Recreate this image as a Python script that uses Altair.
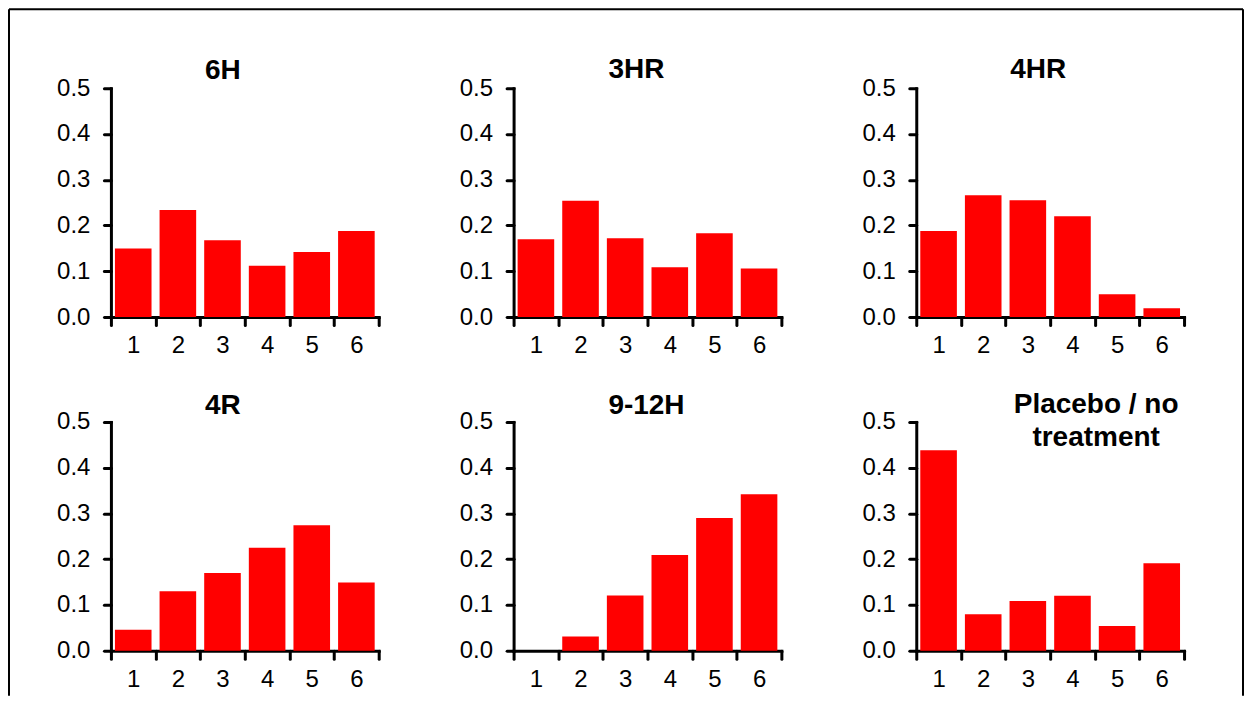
import altair as alt
import pandas as pd

FONT = "Liberation Sans"

# bar categories on the x axis
categories = [1, 2, 3, 4, 5, 6]

# one list of proportions per panel
h6 = [0.150, 0.234, 0.168, 0.112, 0.142, 0.188]
hr3 = [0.170, 0.254, 0.172, 0.109, 0.183, 0.106]
hr4 = [0.188, 0.266, 0.255, 0.220, 0.050, 0.019]
r4 = [0.046, 0.130, 0.170, 0.225, 0.274, 0.149]
h9_12 = [0.000, 0.031, 0.121, 0.209, 0.290, 0.342]
placebo = [0.438, 0.080, 0.109, 0.120, 0.054, 0.191]

panel_titles = ["6H", "3HR", "4HR", "4R", "9-12H", ["Placebo / no", "treatment"]]
panel_values = [h6, hr3, hr4, r4, h9_12, placebo]
y_ticks = [0.0, 0.1, 0.2, 0.3, 0.4, 0.5]

# title nudges so they sit where the original puts them
# (first panel also carries the outer frame, which pushes its title up)
title_dx = [-22, -11, -12, -22, -1, 46]
title_dy = [87, 18, 18, 20, 20, 52]

x_axis = alt.Axis(
    title=None, labelAngle=0, tickBand="extent", grid=False,
    domainColor="black", domainWidth=3, domainCap="square",
    tickColor="black", tickWidth=3, tickSize=8, tickCap="round",
    labelFont=FONT, labelFontSize=24, labelColor="black", labelPadding=9,
)
y_axis = alt.Axis(
    title=None, values=y_ticks, format=".1f", grid=False,
    domainColor="black", domainWidth=3, domainCap="square",
    tickColor="black", tickWidth=3, tickSize=7, tickCap="round",
    labelFont=FONT, labelFontSize=24, labelColor="black", labelPadding=14,
)


def panel(i):
    df = pd.DataFrame({"cat": categories, "val": panel_values[i]})
    bars = (
        alt.Chart(df)
        .mark_bar(color="#ff0000", width=alt.RelativeBandSize(0.82))
        .encode(
            alt.X("cat:O", axis=x_axis, scale=alt.Scale(paddingInner=0, paddingOuter=0)),
            alt.Y("val:Q", axis=y_axis, scale=alt.Scale(domain=[0, 0.5], nice=False)),
        )
    )
    title = alt.TitleParams(
        panel_titles[i], font=FONT, fontWeight="bold", color="black",
        fontSize=28, lineHeight=33,
        anchor="middle", frame="group", dx=title_dx[i], dy=title_dy[i], offset=10,
    )
    return bars, title


charts = []
for i in range(6):
    bars, title = panel(i)
    if i == 0:
        # outer frame of the figure (left, top and right edges)
        one = pd.DataFrame({"k": [0]})
        top = alt.Chart(one).mark_rule(color="black", strokeWidth=2).encode(
            x=alt.value(-102), x2=alt.value(1133), y=alt.value(-79))
        left = alt.Chart(one).mark_rule(color="black", strokeWidth=2).encode(
            x=alt.value(-102), y=alt.value(-79), y2=alt.value(608))
        right = alt.Chart(one).mark_rule(color="black", strokeWidth=2).encode(
            x=alt.value(1133), y=alt.value(-79), y2=alt.value(608))
        c = alt.layer(bars, top, left, right)
    else:
        c = bars
    charts.append(c.properties(width=268, height=229, title=title))

chart = (
    alt.concat(*charts, columns=3, spacing={"row": 105, "column": 135}, bounds="flush")
    .properties(padding={"left": 0, "top": 0, "right": 0, "bottom": 0}, background="white")
    .configure_view(stroke=None)
)

chart.save("out.html", embed_options={"renderer": "svg", "actions": False})
